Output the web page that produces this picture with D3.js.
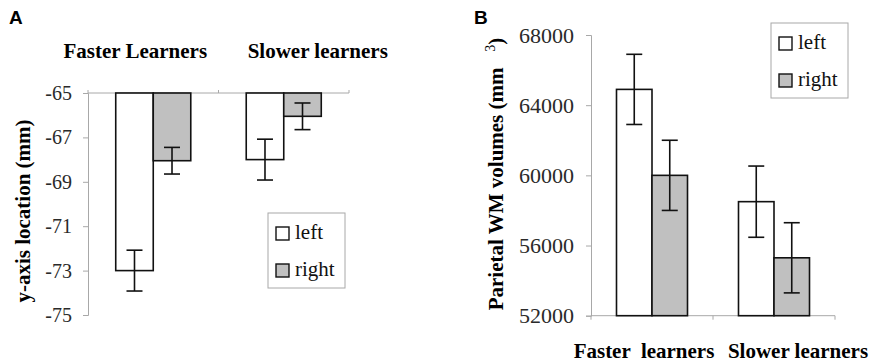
<!DOCTYPE html>
<html>
<head>
<meta charset="utf-8">
<script src="https://cdn.jsdelivr.net/npm/d3@7.9.0/dist/d3.min.js"></script>
<style>
  body { margin: 0; background: #fff; }
  svg text { font-family: "Liberation Serif", "Times New Roman", serif; }
</style>
</head>
<body>
<svg id="chart" width="871" height="364"></svg>
<script>
// panel A data: y-axis location (mm)
const groupsA = ["Faster Learners", "Slower learners"];
const sides = ["left", "right"];
const meansA = [[-73.0, -68.05], [-68.0, -66.05]];
const errA = [[0.92, 0.6], [0.92, 0.6]];
const ticksA = [-65, -67, -69, -71, -73, -75];

// panel B data: parietal WM volumes (mm3)
const groupsB = ["Faster  learners", "Slower learners"];
const meansB = [[64900, 60000], [58500, 55300]];
const errB = [[2000, 2000], [2030, 2000]];
const ticksB = [52000, 56000, 60000, 64000, 68000];

const fills = { left: "#ffffff", right: "#c0c0c0" };
const svg = d3.select("#chart");
const axisCol = "#a8a8a8";

function drawPanel(o) {
  const g = svg.append("g");
  const x0 = d3.scaleBand().domain(o.groups).range(o.xr).paddingInner(o.pad).paddingOuter(o.pad / 2);
  const x1 = d3.scaleBand().domain(sides).range([0, x0.bandwidth()]);
  const y = d3.scaleLinear().domain(o.yd).range(o.yr);

  // y axis (plain hyphen for minus, like the original)
  const ya = g.append("g").attr("transform", `translate(${o.xr[0]},0)`)
    .call(d3.axisLeft(y).tickValues(o.ticks).tickSize(5).tickPadding(o.tickPad).tickFormat(d => String(d)));
  ya.select(".domain").attr("stroke", axisCol);
  ya.selectAll(".tick line").attr("stroke", axisCol);
  ya.selectAll(".tick text").attr("fill", "#2a2a2a").style("font-size", o.tickFont + "px")
    .style("font-family", "Liberation Serif");

  // category axis at the baseline
  const base = y(o.yd[0]);
  g.append("line").attr("x1", o.xr[0]).attr("x2", o.xr[1]).attr("y1", base).attr("y2", base)
    .attr("stroke", axisCol);
  const bounds = [o.xr[0], ...o.groups.map(d => x0(d) - x0.step() * o.pad / 2 + x0.step())];
  g.selectAll(".ct").data(bounds).join("line")
    .attr("x1", d => d).attr("x2", d => d)
    .attr("y1", base).attr("y2", base + o.catTick).attr("stroke", axisCol);

  // bars
  const rows = [];
  o.groups.forEach((gr, i) => sides.forEach((s, j) =>
    rows.push({ gr, s, v: o.means[i][j], e: o.err[i][j] })));
  g.selectAll(".bar").data(rows).join("rect")
    .attr("x", d => x0(d.gr) + x1(d.s))
    .attr("width", x1.bandwidth())
    .attr("y", d => Math.min(base, y(d.v)))
    .attr("height", d => Math.abs(y(d.v) - base))
    .attr("fill", d => fills[d.s]).attr("stroke", "#111").attr("stroke-width", 1.6);

  // error bars
  const eb = g.selectAll(".err").data(rows).join("g")
    .attr("transform", d => `translate(${x0(d.gr) + x1(d.s) + x1.bandwidth() / 2},0)`)
    .attr("stroke", "#111").attr("stroke-width", 1.6);
  eb.append("line").attr("y1", d => y(d.v - d.e)).attr("y2", d => y(d.v + d.e));
  eb.append("line").attr("x1", -8).attr("x2", 8).attr("y1", d => y(d.v - d.e)).attr("y2", d => y(d.v - d.e));
  eb.append("line").attr("x1", -8).attr("x2", 8).attr("y1", d => y(d.v + d.e)).attr("y2", d => y(d.v + d.e));

  // group labels
  g.selectAll(".gl").data(o.groups).join("text")
    .attr("x", (d, i) => x0(d) + x0.bandwidth() / 2 + o.labelDx[i])
    .attr("y", o.labelY)
    .attr("text-anchor", "middle")
    .style("font-size", "21px").style("font-weight", "bold")
    .attr("xml:space", "preserve")
    .text(d => d);

  // legend
  const lg = g.append("g").attr("transform", `translate(${o.legend[0]},${o.legend[1]})`);
  lg.append("rect").attr("width", 77).attr("height", 75).attr("fill", "#fff")
    .attr("stroke", "#a8a8a8").attr("stroke-width", 1);
  sides.forEach((s, i) => {
    const it = lg.append("g").attr("transform", `translate(8,${14 + i * 37})`);
    it.append("rect").attr("width", 13).attr("height", 13).attr("fill", fills[s])
      .attr("stroke", "#111").attr("stroke-width", 1.4);
    it.append("text").attr("x", 19).attr("y", 12).style("font-size", "21px").attr("fill", "#111").text(s);
  });

  // panel letter
  g.append("text").attr("x", o.letter[0]).attr("y", o.letter[1])
    .style("font-family", "Liberation Sans").style("font-weight", "bold").style("font-size", "19px")
    .text(o.letterText);

  // y title
  const yt = g.append("text")
    .attr("transform", `translate(${o.ytitle[0]},${o.ytitle[1]}) rotate(-90)`)
    .attr("text-anchor", "middle")
    .style("font-size", "21px").style("font-weight", "bold");
  return { g, yt };
}

const a = drawPanel({
  groups: groupsA, means: meansA, err: errA, ticks: ticksA,
  xr: [88, 349], pad: 0.425, yd: [-65, -75], yr: [93, 315],
  tickFont: 20, tickPad: 11, catTick: -3, labelY: 58, labelDx: [-18, 34],
  legend: [268, 213], letter: [9, 24], letterText: "A", ytitle: [30, 211]
});
a.yt.text("y-axis location (mm)");

const b = drawPanel({
  groups: groupsB, means: meansB, err: errB, ticks: ticksB,
  xr: [591, 835], pad: 0.418, yd: [52000, 68000], yr: [315.7, 35],
  tickFont: 22, tickPad: 12, catTick: 4, labelY: 358, labelDx: [-8, 24],
  legend: [771, 23], letter: [474, 24], letterText: "B", ytitle: [503, 174]
});
b.yt.attr("xml:space", "preserve");
b.yt.append("tspan").text("Parietal WM volumes (mm   ");
b.yt.append("tspan").attr("dy", -8).style("font-size", "14px").style("font-weight", "normal").text("3");
b.yt.append("tspan").attr("dy", 8).text(")");
</script>
</body>
</html>
